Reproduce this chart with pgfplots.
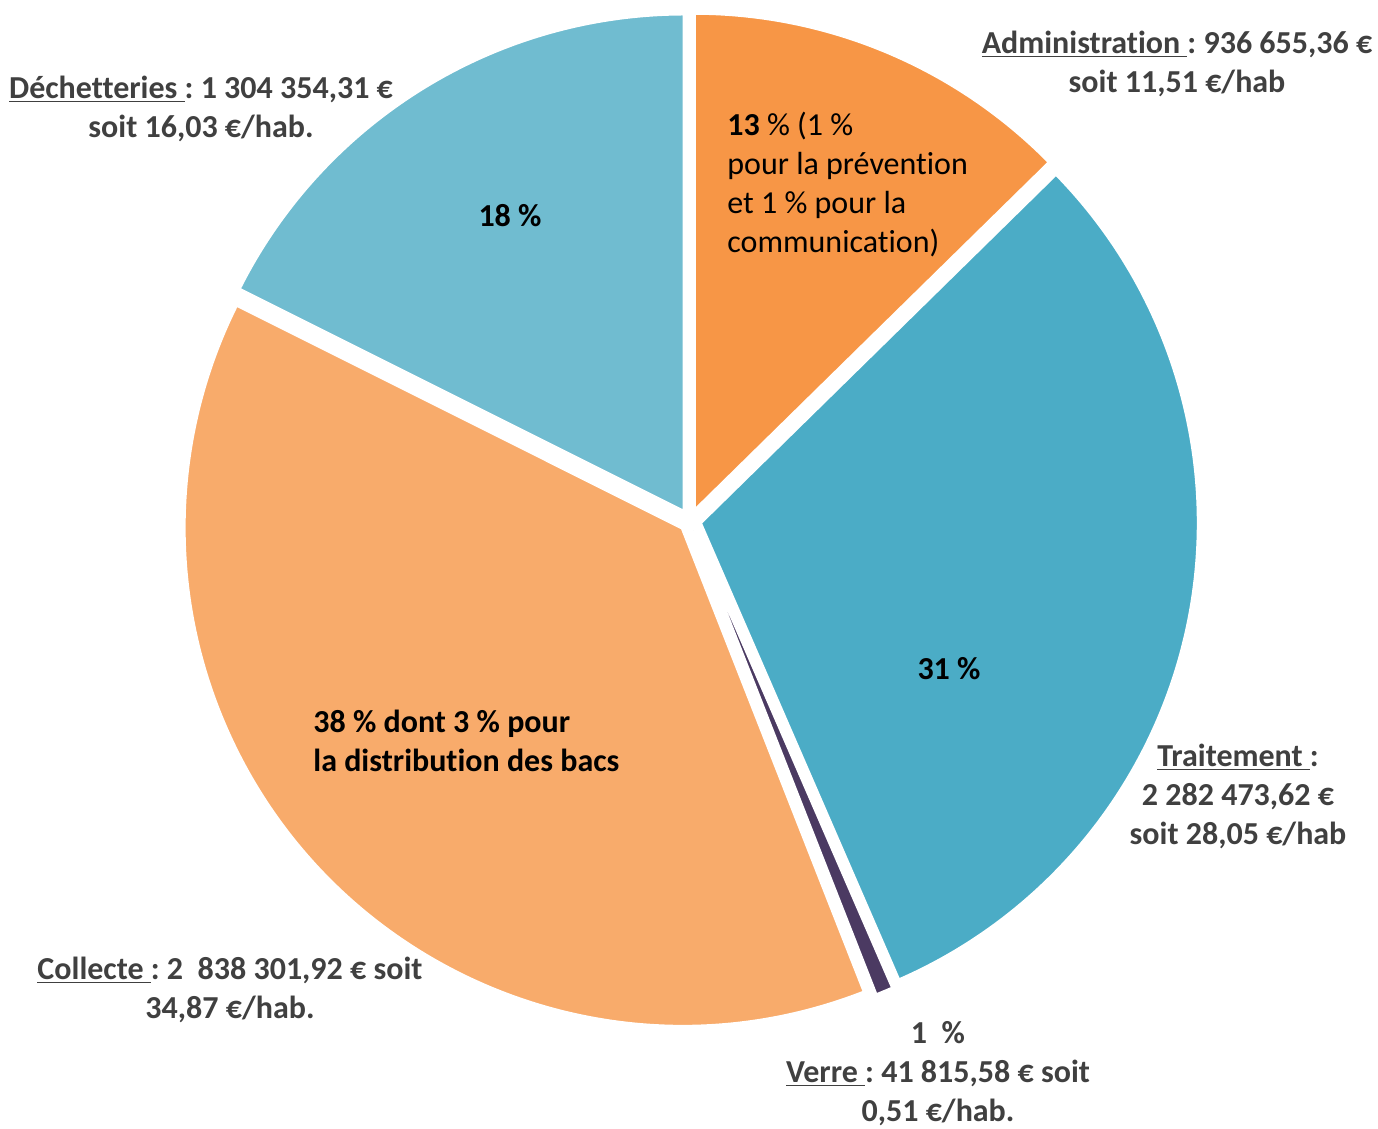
\documentclass[border=0pt]{standalone}
\usepackage{pgfplots}
\pgfplotsset{compat=1.18}
\usepackage{pgfplotstable}
\usetikzlibrary{calc}
\usepackage{fontspec}
\setmainfont{Carlito}[Ligatures=NoCommon]
\definecolor{cAdmin}{HTML}{F79646}
\definecolor{cTrait}{HTML}{4BACC6}
\definecolor{cVerre}{HTML}{4B3A62}
\definecolor{cColl}{HTML}{F8AB6B}
\definecolor{cDech}{HTML}{70BCD0}
\definecolor{lbl}{HTML}{404040}

\pgfplotstableread{
name value
Administration 936655.36
Traitement 2282473.62
Verre 41815.58
Collecte 2838301.92
Dechetteries 1304354.31
}\depenses

\pgfplotstablegetelem{0}{value}\of\depenses \edef\vA{\pgfplotsretval}
\pgfplotstablegetelem{1}{value}\of\depenses \edef\vB{\pgfplotsretval}
\pgfplotstablegetelem{2}{value}\of\depenses \edef\vC{\pgfplotsretval}
\pgfplotstablegetelem{3}{value}\of\depenses \edef\vD{\pgfplotsretval}
\pgfplotstablegetelem{4}{value}\of\depenses \edef\vE{\pgfplotsretval}
\edef\T{\fpeval{\vA+\vB+\vC+\vD+\vE}}
\edef\aA{90}
\edef\aB{\fpeval{round(\aA-360*\vA/\T,4)}}
\edef\aC{\fpeval{round(\aB-360*\vB/\T,4)}}
\edef\aD{\fpeval{round(\aC-360*\vC/\T,4)}}
\edef\aE{\fpeval{round(\aD-360*\vD/\T,4)}}
\edef\aF{\fpeval{round(\aE-360*\vE/\T,4)}}
\edef\mA{\fpeval{(\aA+\aB)/2}}
\edef\mB{\fpeval{(\aB+\aC)/2}}
\edef\mC{\fpeval{(\aC+\aD)/2}}
\edef\mD{\fpeval{(\aD+\aE)/2}}
\edef\mE{\fpeval{(\aE+\aF)/2}}

\newcommand\ul[1]{\underline{#1}}
\newcommand\ti{t\kern0pt i}
\frenchspacing

\begin{document}
\begin{tikzpicture}
\begin{axis}[width=689pt, height=564.5pt, scale only axis,
  xmin=0, xmax=1378, ymin=0, ymax=1129, hide axis, clip=false]
\path (axis cs:0,0) rectangle (axis cs:1378,1129);
\fill[cAdmin, draw=white, line width=2pt] ($(axis cs:690,608)+(\mA:5pt)$) -- ++(\aA:249.5pt) arc[start angle=\aA, end angle=\aB, radius=249.5pt] -- cycle;
\fill[cTrait, draw=white, line width=2pt] ($(axis cs:690,608)+(\mB:5pt)$) -- ++(\aB:249.5pt) arc[start angle=\aB, end angle=\aC, radius=249.5pt] -- cycle;
\fill[cColl, draw=white, line width=2pt] ($(axis cs:690,608)+(\mD:5pt)$) -- ++(\aD:249.5pt) arc[start angle=\aD, end angle=\aE, radius=249.5pt] -- cycle;
\fill[cDech, draw=white, line width=2pt] ($(axis cs:690,608)+(\mE:5pt)$) -- ++(\aE:249.5pt) arc[start angle=\aE, end angle=\aF, radius=249.5pt] -- cycle;
\fill[cVerre, draw=white, line width=1.4pt] ($(axis cs:690,608)+(\mC:5pt)$) -- ++(\aC:249.5pt) arc[start angle=\aC, end angle=\aD, radius=249.5pt] -- cycle;

\begin{scope}[every node/.style={font=\fontsize{16}{19.5}\selectfont\bfseries, inner sep=0pt}]
\node[text=lbl, align=center] at (axis cs:1177,1065) {\ul{Administra\ti on\ }: 936 655,36 €\\soit 11,51 €/hab};
\node[text=lbl, align=center] at (axis cs:201,1020) {\ul{Déchetteries\ }: 1 304 354,31 €\\soit 16,03 €/hab.};
\node[text=lbl, align=center] at (axis cs:1238,333) {\ul{Traitement\ }:\\2 282 473,62 €\\soit 28,05 €/hab};
\node[text=lbl, align=center] at (axis cs:230,139.5) {\ul{Collecte\ }: 2~\ 838 301,92 € soit\\34,87 €/hab.};
\node[text=lbl, align=center] at (axis cs:938,55) {1~\ \%\\\ul{Verre\ }: 41 815,58 € soit\\0,51 €/hab.};
\node[text=black, align=left, anchor=west] at (axis cs:727,944.5) {13 {\mdseries\% (1 \%}\\{\mdseries pour la préven\ti on}\\{\mdseries et 1 \% pour la}\\{\mdseries communica\ti on)}};
\node[text=black, align=left, anchor=west] at (axis cs:313,388.5) {38 \% dont 3 \% pour\\la distribu\ti on des bacs};
\node[text=black] at (axis cs:510,913) {18 \%};
\node[text=black] at (axis cs:949,460) {31 \%};
\end{scope}
\end{axis}
\end{tikzpicture}
\end{document}
